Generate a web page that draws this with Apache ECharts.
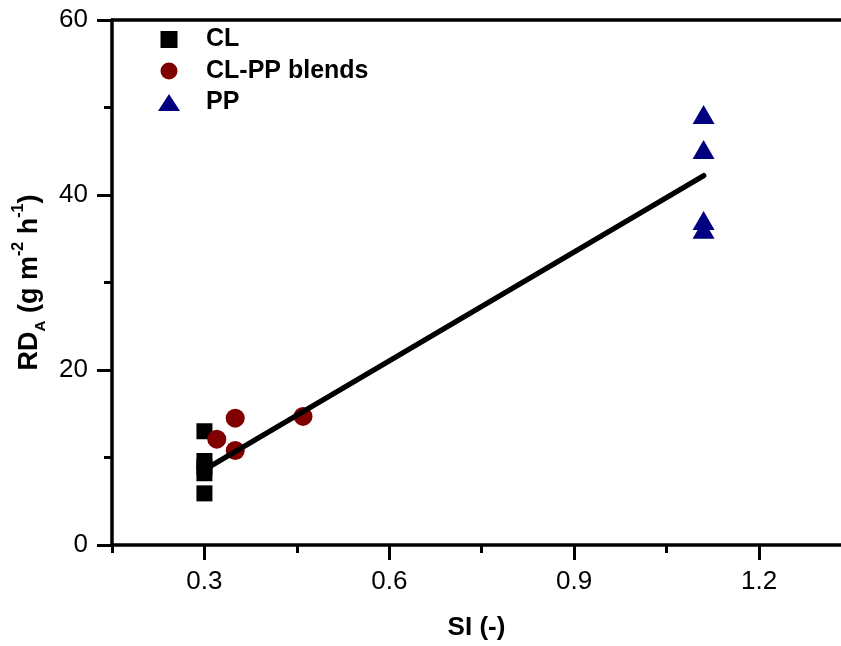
<!DOCTYPE html>
<html>
<head>
<meta charset="utf-8">
<script src="https://cdn.jsdelivr.net/npm/echarts@6/dist/echarts.min.js"></script>
<style>
html,body{margin:0;padding:0;background:#fff;}
#chart{width:841px;height:646px;}
</style>
</head>
<body>
<div id="chart"></div>
<script>
// ---- data ----
const clX = [0.30, 0.30, 0.30, 0.30, 0.30];
const clY = [13.0, 9.6, 8.9, 8.2, 5.9];
const blendX = [0.32, 0.35, 0.35, 0.46];
const blendY = [12.1, 14.5, 10.8, 14.7];
const ppX = [1.11, 1.11, 1.11, 1.11];
const ppY = [49.2, 45.2, 37.1, 36.1];
const fitX = [0.30, 1.11];
const fitY = [8.6, 42.2];
const xMajorTicks = [0.3, 0.6, 0.9, 1.2];
const seriesNames = ['CL', 'CL-PP blends', 'PP'];

const zip = (xs, ys) => xs.map((x, i) => [x, ys[i]]);
const FONT = "'Liberation Sans', Arial, sans-serif";
const X_MIN = 0.15, X_MAX = 1.333;

const chart = echarts.init(document.getElementById('chart'), null, {renderer: 'canvas'});
chart.setOption({
  animation: false,
  backgroundColor: '#ffffff',
  textStyle: {fontFamily: FONT},
  grid: {left: 112, top: 20, bottom: 97, right: 0, containLabel: false},
  legend: {
    orient: 'vertical', left: 158, top: 27, padding: 0,
    itemWidth: 22, itemHeight: 17, itemGap: 6.5,
    data: [
      {name: seriesNames[0], icon: 'path://M0,0L10,0L10,10L0,10Z'},
      {name: seriesNames[1], icon: 'circle'},
      {name: seriesNames[2], icon: 'path://M11,0L22,17L0,17Z'}
    ],
    textStyle: {fontFamily: FONT, fontSize: 25, fontWeight: 'bold', color: '#000', lineHeight: 20, padding: [0, 0, 0, 21]}
  },
  xAxis: [
    {
      type: 'value', position: 'bottom', min: X_MIN, max: X_MAX, interval: 0.15,
      name: 'SI (-)', nameLocation: 'middle', nameGap: 70,
      nameTextStyle: {fontFamily: FONT, fontSize: 26, fontWeight: 'bold', color: '#000'},
      axisLine: {onZero: false, lineStyle: {color: '#000', width: 3.5}},
      axisTick: {length: 8, lineStyle: {color: '#000', width: 3}},
      splitLine: {show: false},
      axisLabel: {
        margin: 24, fontSize: 26, color: '#000', fontFamily: FONT, showMaxLabel: false,
        formatter: v => (Math.abs(v / 0.3 - Math.round(v / 0.3)) < 1e-6 && v > 0.2) ? v.toFixed(1) : ''
      }
    },
    {
      type: 'value', position: 'bottom', min: X_MIN, max: X_MAX,
      axisLine: {show: false},
      axisTick: {show: true, length: 15, customValues: xMajorTicks, lineStyle: {color: '#000', width: 3}},
      axisLabel: {show: false},
      splitLine: {show: false}
    },
    {
      type: 'value', position: 'top', min: X_MIN, max: X_MAX,
      axisLine: {show: true, onZero: false, lineStyle: {color: '#000', width: 3.5}},
      axisTick: {show: false}, axisLabel: {show: false}, splitLine: {show: false}
    }
  ],
  yAxis: {
    type: 'value', min: 0, max: 60, interval: 20,
    name: '{b|RD}{sub|A}{b| (g m}{sup|-2}{b| h}{sup|-1}{b|)}',
    nameLocation: 'middle', nameGap: 60, nameRotate: 90,
    nameTextStyle: {
      fontFamily: FONT, color: '#000',
      rich: {
        b: {fontFamily: FONT, fontSize: 27, fontWeight: 'bold', color: '#000', lineHeight: 38},
        sub: {fontFamily: FONT, fontSize: 15, fontWeight: 'bold', color: '#000', lineHeight: 11, verticalAlign: 'bottom'},
        sup: {fontFamily: FONT, fontSize: 16, fontWeight: 'bold', color: '#000', lineHeight: 22, verticalAlign: 'top'}
      }
    },
    axisLine: {show: true, onZero: false, lineStyle: {color: '#000', width: 3.5}},
    axisTick: {length: 15, lineStyle: {color: '#000', width: 3}},
    minorTick: {show: true, splitNumber: 2, length: 8, lineStyle: {color: '#000', width: 3}},
    splitLine: {show: false},
    axisLabel: {margin: 24, fontSize: 26, color: '#000', fontFamily: FONT}
  },
  series: [
    {
      name: seriesNames[0], type: 'scatter', symbol: 'rect', symbolSize: 16,
      itemStyle: {color: '#000000', opacity: 1}, data: zip(clX, clY), z: 2
    },
    {
      name: seriesNames[1], type: 'scatter', symbol: 'circle', symbolSize: 19,
      itemStyle: {color: '#800000', opacity: 1}, data: zip(blendX, blendY), z: 2
    },
    {
      name: seriesNames[2], type: 'scatter', symbol: 'triangle', symbolSize: [22, 19],
      itemStyle: {color: '#000080', opacity: 1}, data: zip(ppX, ppY), z: 2
    },
    {
      name: 'fit', type: 'line', symbol: 'none', data: zip(fitX, fitY), z: 5,
      lineStyle: {color: '#000', width: 5.5, cap: 'round'}
    }
  ]
});
</script>
</body>
</html>
